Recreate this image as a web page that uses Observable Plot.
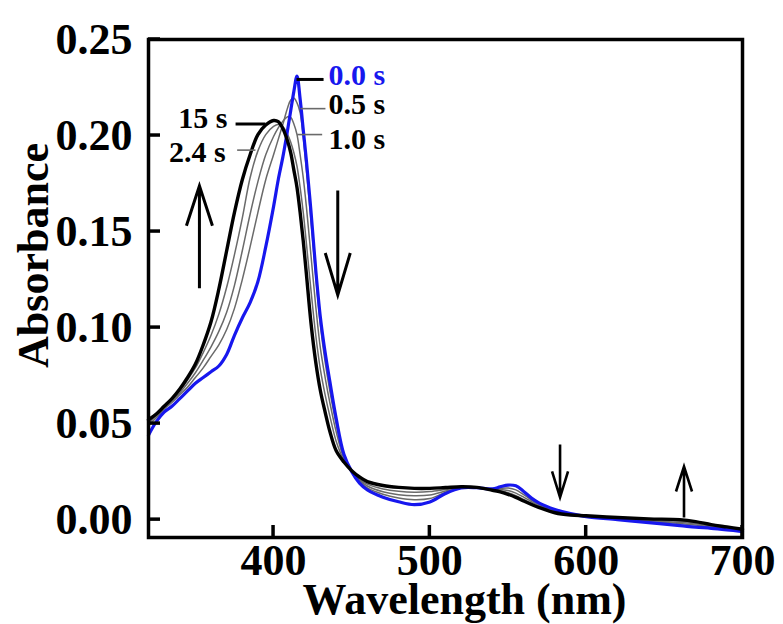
<!DOCTYPE html>
<html><head><meta charset="utf-8">
<script src="https://cdn.jsdelivr.net/npm/d3@7"></script>
<script src="https://cdn.jsdelivr.net/npm/@observablehq/plot@0.6"></script>
<style>body{margin:0;background:#fff}</style>
</head><body><div id="chart"></div>
<script>
// ---- data (wavelength in nm, absorbance) ----
const wavelengths = [320,325,330,335,340,345,350,355,360,365,370,375,380,385,390,395,400,403,406,409,411,413,415,417,419,421,424,427,430,433,436,440,445,450,455,460,470,480,490,500,510,520,530,540,545,550,555,560,565,570,580,590,600,620,640,660,670,680,690,700];

const abs_0_0 = [0.044,0.051,0.056,0.059,0.063,0.067,0.071,0.074,0.077,0.080,0.086,0.096,0.105,0.113,0.124,0.142,0.163,0.177,0.189,0.203,0.213,0.223,0.231,0.219,0.203,0.187,0.160,0.130,0.105,0.087,0.072,0.053,0.034,0.025,0.019,0.0155,0.0117,0.0093,0.0078,0.0092,0.0136,0.0165,0.0166,0.0160,0.0171,0.0180,0.0176,0.0147,0.0112,0.0086,0.0053,0.0031,0.0016,0.0000,-0.0016,-0.0031,-0.0039,-0.0045,-0.0053,-0.0062];

const abs_0_5 = [0.049,0.053,0.0575,0.061,0.065,0.069,0.074,0.079,0.085,0.091,0.099,0.110,0.125,0.142,0.160,0.177,0.190,0.198,0.206,0.2145,0.2185,0.2195,0.2170,0.2120,0.199,0.182,0.155,0.127,0.101,0.082,0.067,0.050,0.033,0.025,0.020,0.0165,0.0132,0.0113,0.0104,0.0110,0.0142,0.0165,0.0167,0.0158,0.0163,0.0165,0.0155,0.0130,0.0102,0.0078,0.0046,0.0028,0.0016,0.0002,-0.0010,-0.0020,-0.0028,-0.0038,-0.0048,-0.0058];

const abs_1_0 = [0.050,0.054,0.058,0.062,0.066,0.071,0.0765,0.083,0.090,0.098,0.108,0.122,0.140,0.159,0.176,0.190,0.1995,0.2040,0.2075,0.2098,0.2095,0.2060,0.2005,0.1900,0.178,0.163,0.137,0.111,0.089,0.074,0.061,0.046,0.032,0.025,0.0205,0.0175,0.0145,0.0130,0.0124,0.0128,0.0149,0.0166,0.0168,0.0157,0.0157,0.0152,0.0138,0.0117,0.0093,0.0072,0.0042,0.0026,0.0016,0.0004,-0.0005,-0.0014,-0.0022,-0.0034,-0.0045,-0.0055];

const abs_2_4 = [0.051,0.0545,0.0585,0.0625,0.067,0.0728,0.079,0.087,0.096,0.107,0.121,0.138,0.157,0.178,0.192,0.2005,0.2048,0.2058,0.2045,0.2005,0.1965,0.1910,0.1840,0.1730,0.160,0.144,0.119,0.096,0.078,0.065,0.054,0.041,0.031,0.025,0.021,0.0185,0.0160,0.0148,0.0143,0.0146,0.0157,0.0168,0.0168,0.0155,0.0150,0.0140,0.0125,0.0105,0.0085,0.0067,0.0039,0.0024,0.0016,0.0007,0.0000,-0.0008,-0.0016,-0.0030,-0.0042,-0.0052];

const abs_15 = [0.052,0.055,0.059,0.063,0.068,0.074,0.081,0.091,0.103,0.120,0.140,0.160,0.177,0.190,0.2005,0.2055,0.2078,0.2072,0.2035,0.1970,0.1910,0.1820,0.1730,0.1600,0.1450,0.1280,0.1020,0.0820,0.0670,0.0560,0.0460,0.0360,0.0300,0.0255,0.0222,0.0198,0.0178,0.0168,0.0163,0.0163,0.0167,0.0171,0.0168,0.0153,0.0145,0.0132,0.0116,0.0097,0.0079,0.0063,0.0036,0.0024,0.0020,0.0011,0.0004,0.0000,-0.0010,-0.0026,-0.0038,-0.0050];

const xTicks = [400, 500, 600, 700];
const yTicks = [0.00, 0.05, 0.10, 0.15, 0.20, 0.25];

// time labels: text, anchor point (nm, absorbance)
const labelText = ["0.0 s", "0.5 s", "1.0 s", "15 s", "2.4 s"];
const labelWl   = [435.1, 435.1, 435.1, 370.5, 369.3];
const labelAbs  = [0.2315, 0.2163, 0.1979, 0.2091, 0.1914];
// leader lines from label to curve
const leaderWl1 = [414.7, 417.2, 415.1, 375.7, 376.7];
const leaderWl2 = [432.0, 433.2, 431.1, 394.8, 388.4];
const leaderAbs = [0.2292, 0.2140, 0.2005, 0.2060, 0.1924];

// change arrows: wavelength, tail absorbance, tip absorbance
const arrowWl   = [352.9, 441.4, 583.6, 662.9];
const arrowFrom = [0.1202, 0.1711, 0.0388, 0.0009];
const arrowTo   = [0.1736, 0.1167, 0.0113, 0.0274];

// ---- styles ----
const serif = "'Liberation Serif', 'Times New Roman', serif";
const blue = "#1717ee";
const gray = "#6a6a6a";
const labelFill = [blue, "#000", "#000", "#000", "#000"];
const leaderStroke = ["#000", gray, gray, "#000", gray];
const leaderWidth = [3, 1.6, 1.6, 3, 1.6];
const arrowHeadLen = [40, 42, 26, 25];
const arrowHeadHalf = [13, 12.5, 8, 8];
const arrowWidth = [3, 3, 2.6, 2.6];

const mk = (vals) => wavelengths.map((w, i) => ({wl: w, a: vals[i]}));

const inwardTicks = (index, scales, values, dim) => {
  const g = d3.create("svg:g").attr("stroke", "#000").attr("stroke-width", 3.5);
  const yb = dim.height - dim.marginBottom, xl = dim.marginLeft;
  for (const t of xTicks) {
    const x = scales.x(t);
    g.append("line").attr("x1", x).attr("x2", x).attr("y1", yb).attr("y2", yb - 12);
  }
  for (const t of yTicks) {
    const y = scales.y(t);
    g.append("line").attr("x1", xl).attr("x2", xl + 12).attr("y1", y).attr("y2", y);
  }
  return g.node();
};

const arrows = (index, scales) => {
  const g = d3.create("svg:g").attr("fill", "none").attr("stroke", "#000");
  arrowWl.forEach((w, i) => {
    const x = scales.x(w), y1 = scales.y(arrowFrom[i]), y2 = scales.y(arrowTo[i]);
    const dir = y2 > y1 ? 1 : -1, hl = arrowHeadLen[i], hw = arrowHeadHalf[i];
    g.append("path").attr("stroke-width", arrowWidth[i])
      .attr("d", `M${x},${y1}L${x},${y2}M${x - hw},${y2 - dir * hl}L${x},${y2}L${x + hw},${y2 - dir * hl}`);
  });
  return g.node();
};

const idx = d3.range(labelText.length);

const chart = Plot.plot({
  width: 783,
  height: 624,
  marginLeft: 148,
  marginRight: 41,
  marginTop: 39,
  marginBottom: 87,
  style: {fontFamily: serif, fontWeight: "bold", background: "#fff", color: "#000"},
  x: {domain: [320, 700]},
  y: {domain: [-0.0093, 0.25]},
  marks: [
    Plot.line(mk(abs_2_4), {x: "wl", y: "a", stroke: gray, strokeWidth: 1.5, curve: "catmull-rom"}),
    Plot.line(mk(abs_1_0), {x: "wl", y: "a", stroke: gray, strokeWidth: 1.5, curve: "catmull-rom"}),
    Plot.line(mk(abs_0_5), {x: "wl", y: "a", stroke: gray, strokeWidth: 1.5, curve: "catmull-rom"}),
    Plot.line(mk(abs_0_0), {x: "wl", y: "a", stroke: blue, strokeWidth: 3.2, curve: "catmull-rom"}),
    Plot.line(mk(abs_15), {x: "wl", y: "a", stroke: "#000", strokeWidth: 3.4, curve: "catmull-rom"}),
    Plot.link(idx, {x1: i => leaderWl1[i], x2: i => leaderWl2[i], y1: i => leaderAbs[i], y2: i => leaderAbs[i],
      stroke: i => leaderStroke[i], strokeWidth: i => leaderWidth[i]}),
    Plot.text(idx.filter(i => i < 3), {x: i => labelWl[i], y: i => labelAbs[i], text: i => labelText[i],
      fill: i => labelFill[i], textAnchor: "start", fontSize: 30, fontWeight: "bold", fontFamily: serif}),
    Plot.text(idx.filter(i => i >= 3), {x: i => labelWl[i], y: i => labelAbs[i], text: i => labelText[i],
      fill: "#000", textAnchor: "end", fontSize: 30, fontWeight: "bold", fontFamily: serif}),
    arrows,
    Plot.frame({stroke: "#000", strokeWidth: 3.5}),
    inwardTicks,
    Plot.axisX({ticks: xTicks, tickSize: 0, tickPadding: 6, fontSize: 44, fontWeight: "bold", label: null, tickFormat: d => String(d)}),
    Plot.axisY({ticks: yTicks, tickSize: 0, tickPadding: 16, fontSize: 44, fontWeight: "bold", label: null, tickFormat: d3.format(".2f")}),
    Plot.text(["Wavelength (nm)"], {frameAnchor: "bottom", textAnchor: "middle", dx: 19, dy: 76, lineAnchor: "bottom", fontSize: 44, fontWeight: "bold", fontFamily: serif}),
    Plot.text(["Absorbance"], {frameAnchor: "left", textAnchor: "middle", dx: -101, dy: -33, rotate: -90, lineAnchor: "bottom", fontSize: 44, fontWeight: "bold", fontFamily: serif})
  ]
});
document.getElementById("chart").appendChild(chart);
</script>
</body></html>
